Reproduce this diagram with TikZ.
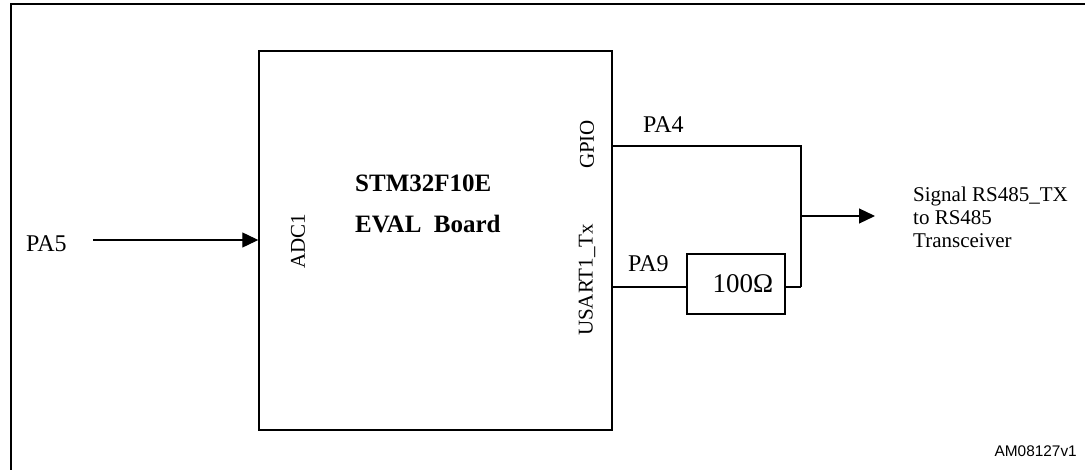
\documentclass[tikz,border=0pt]{standalone}
\usepackage{fontspec}
\setmainfont{Liberation Serif}
\newfontfamily\labsans{Liberation Sans}
\usetikzlibrary{arrows.meta}
\tikzset{
  frameline/.style={line width=2pt},
  boardbox/.style={draw, line width=1.4pt, minimum width=353pt, minimum height=379pt, inner sep=0pt},
  resbox/.style={draw, line width=1.2pt, minimum width=98pt, minimum height=60pt, inner sep=0pt},
  wire/.style={line width=1.2pt},
  sigarrow/.style={wire, -{Triangle[length=16pt,width=15pt]}},
  lbl/.style={inner sep=0pt, font=\fontsize{24}{28}\selectfont},
  pinlbl/.style={inner sep=0pt, rotate=90, font=\fontsize{21}{24}\selectfont},
  titlelbl/.style={inner sep=0pt, anchor=base west, font=\fontsize{25}{30}\selectfont\bfseries},
}
\begin{document}
\begin{tikzpicture}[x=1pt,y=-1pt]
\useasboundingbox (0,0) rectangle (1085,470);
% outer frame (partially visible)
\draw[frameline] (11,480) |- (1095,4);
% board
\node[boardbox] (board) at (435.5,240.5) {};
\node[titlelbl] (t1) at (355,191.5) {STM32F10E};
\node[titlelbl] (t2) at (355,232.5) {EVAL\ \ Board};
% pin labels
\node[pinlbl] (adc) at (298,241) {ADC1};
\node[pinlbl] (gpio) at (587,144.5) {GPIO};
\node[pinlbl] (usart) at (587,280) {USART1\_Tx};
% PA5 input
\node[lbl, anchor=base west] (pa5) at (26,252) {PA5};
\coordinate (pa5in) at (93,240);
\draw[sigarrow] (pa5in) -- (board.west |- pa5in);
% PA4 path
\node[lbl, anchor=base west] (pa4) at (643,132.7) {PA4};
\coordinate (corner) at (801,146);
\coordinate (junc) at (801,216);
\coordinate (pa9y) at (801,287);
\draw[wire] (board.east |- corner) -- (corner) -- (pa9y);
% resistor
\node[lbl, anchor=base west] (pa9) at (628,271.7) {PA9};
\node[resbox, font=\fontsize{27}{30}\selectfont] (res) at (736,284) {\hspace*{14pt}100Ω};
\draw[wire] (board.east |- pa9y) -- (res.west |- pa9y);
\draw[wire] (res.east |- pa9y) -- (pa9y);
% output
\node[inner sep=0pt, align=left, anchor=base west, font=\fontsize{21}{22.8}\selectfont] (sig) at (913,247.3) {Signal RS485\_TX\\to RS485\\Transceiver};
\coordinate (outtip) at (875,216);
\draw[sigarrow] (junc) -- (outtip);
% figure id
\node[inner sep=0pt, anchor=base east, font=\labsans\fontsize{15.4}{18}\selectfont] (fid) at (1077,456) {AM08127v1};
\end{tikzpicture}
\end{document}
